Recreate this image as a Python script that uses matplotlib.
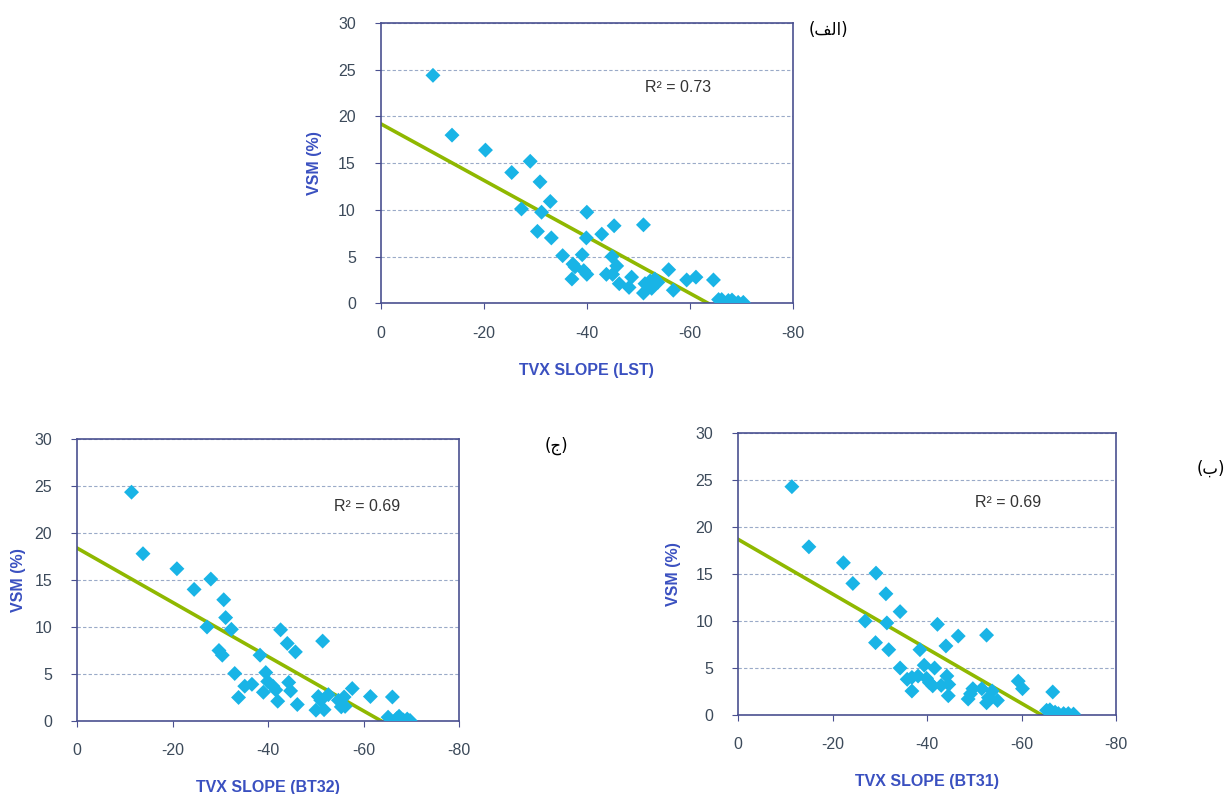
import matplotlib
matplotlib.use('Agg')
import matplotlib.pyplot as plt

# --- data ---
lst_x = [-10.1, -13.8, -20.3, -25.4, -29.0, -30.9, -27.3, -32.9, -31.2, -30.4, -33.1, -35.3,
         -37.3, -37.1, -37.7, -39.1, -40.0, -39.9, -39.4, -40.0, -42.9, -45.3, -44.9, -43.8,
         -45.0, -45.8, -46.3, -48.2, -48.7, -51.0, -51.0, -51.3, -52.3, -52.6, -53.2, -53.8,
         -55.9, -56.8, -59.4, -61.2, -64.6, -65.6, -66.2, -67.5, -68.2, -68.5, -69.4, -70.4]
lst_y = [24.4, 18.0, 16.4, 14.0, 15.2, 13.0, 10.1, 10.9, 9.75, 7.7, 7.0, 5.1,
         4.2, 2.6, 3.9, 5.2, 9.75, 7.0, 3.5, 3.1, 7.4, 8.3, 5.0, 3.1,
         3.1, 4.0, 2.1, 1.7, 2.8, 8.4, 1.1, 2.1, 2.4, 1.6, 2.6, 2.25,
         3.6, 1.4, 2.5, 2.8, 2.5, 0.4, 0.4, 0.3, 0.35, 0.1, 0.1, 0.1]

bt32_x = [-11.4, -13.8, -20.9, -24.5, -28.0, -30.7, -31.1, -27.2, -32.3, -29.7, -30.4, -33.0,
          -33.8, -35.1, -36.6, -38.3, -39.5, -39.9, -39.0, -41.0, -41.6, -42.0, -42.6, -44.0,
          -44.3, -44.7, -45.7, -46.1, -50.0, -50.5, -51.0, -51.4, -51.7, -52.6, -54.7, -55.3,
          -55.9, -56.1, -57.6, -61.4, -65.1, -66.0, -66.9, -67.4, -68.3, -69.1, -69.7]
bt32_y = [24.35, 17.8, 16.2, 14.0, 15.1, 12.9, 11.0, 10.0, 9.75, 7.5, 7.0, 5.05,
          2.5, 3.7, 3.9, 7.0, 5.15, 4.2, 3.05, 3.7, 3.3, 2.1, 9.7, 8.25,
          4.1, 3.2, 7.35, 1.75, 1.15, 2.6, 2.2, 8.5, 1.2, 2.8, 2.2, 1.5,
          2.55, 1.55, 3.45, 2.6, 0.4, 2.55, 0.25, 0.5, 0.1, 0.2, 0.05]

bt31_x = [-11.4, -15.0, -22.3, -24.3, -29.2, -31.3, -31.5, -26.9, -34.3, -29.1, -31.9, -34.3,
          -35.8, -36.8, -36.8, -38.1, -38.5, -39.4, -39.9, -40.5, -41.2, -41.6, -42.2, -43.0,
          -44.0, -44.2, -44.6, -44.5, -46.6, -48.7, -49.2, -49.7, -51.6, -52.6, -52.6, -53.0,
          -53.8, -54.9, -59.3, -60.2, -65.3, -66.0, -66.6, -67.1, -67.8, -68.9, -69.9, -71.0]
bt31_y = [24.3, 17.9, 16.2, 14.0, 15.1, 12.9, 9.8, 10.0, 11.0, 7.7, 6.95, 5.0,
          3.8, 2.55, 4.0, 4.15, 6.95, 5.3, 3.9, 3.45, 3.1, 5.0, 9.65, 3.15,
          7.35, 4.15, 3.25, 2.05, 8.4, 1.7, 2.25, 2.8, 2.8, 8.5, 1.3, 1.85,
          2.55, 1.55, 3.6, 2.8, 0.5, 0.55, 2.45, 0.3, 0.15, 0.15, 0.15, 0.1]

# linear trend lines (intercept, slope) and R² as printed
trend_lst = (19.2, 0.302)
trend_bt32 = (18.4, 0.289)
trend_bt31 = (18.7, 0.291)
r2_labels = ['R² = 0.73', 'R² = 0.69', 'R² = 0.69']
x_labels = ['TVX SLOPE (LST)', 'TVX SLOPE (BT32)', 'TVX SLOPE (BT31)']
# panel tags, written in visual order with Arabic presentation forms
panel_tags = ['(\ufed2\ufedf\ufe8d)', '(\ufe9d)', '(\ufe8f)']

x_ticks = [0, -20, -40, -60, -80]
y_ticks = [0, 5, 10, 15, 20, 25, 30]

plt.rcParams['font.family'] = ['Liberation Sans', 'DejaVu Sans']
plt.rcParams['axes.unicode_minus'] = False

fig = plt.figure(figsize=(12.29, 7.94), dpi=100)
positions = [
    [0.310, 0.618, 0.335, 0.353],
    [0.0627, 0.092, 0.311, 0.355],
    [0.6005, 0.0995, 0.3076, 0.355],
]
datasets = [(lst_x, lst_y, trend_lst), (bt32_x, bt32_y, trend_bt32), (bt31_x, bt31_y, trend_bt31)]
r2_pos = [(-57.8, 23.1), (-60.6, 22.8), (-57.2, 22.6)]
tag_pos = [(0.690, 0.962), (0.462, 0.438), (0.997, 0.41)]
ylabel_pads = [12, 6, 10]

spine_color = '#4a5090'
tick_color = '#3c4a5a'
label_color = '#3a50c0'

for i, pos in enumerate(positions):
    ax = fig.add_axes(pos)
    xs, ys, (b, m) = datasets[i]
    ax.set_xlim(0, -80)
    ax.set_ylim(0, 30)
    ax.set_xticks(x_ticks)
    ax.set_yticks(y_ticks)
    ax.grid(True, axis='y', linestyle='--', linewidth=0.8, color='#9aaac8', dashes=(3, 2))
    ax.set_axisbelow(True)
    x_end = -b / m
    ax.plot([0, x_end], [b, b + m * x_end], color='#8fb800', linewidth=2.6, zorder=2)
    ax.scatter(xs, ys, marker='D', s=58, color='#19b4e6', edgecolors='none', zorder=3)
    for sp in ax.spines.values():
        sp.set_color(spine_color)
        sp.set_linewidth(1.2)
    ax.tick_params(direction='out', length=4, color=spine_color, labelsize=11.5,
                   labelcolor=tick_color)
    ax.tick_params(axis='y', pad=14)
    ax.tick_params(axis='x', pad=12)
    ax.set_xlabel(x_labels[i], fontsize=11.5, fontweight='bold', color=label_color, labelpad=16)
    ax.set_ylabel('VSM (%)', fontsize=11.5, fontweight='bold', color=label_color,
                  labelpad=ylabel_pads[i])
    ax.text(r2_pos[i][0], r2_pos[i][1], r2_labels[i], fontsize=11.5, color='#333333',
            ha='center', va='center')
    fig.text(tag_pos[i][0], tag_pos[i][1], panel_tags[i], fontsize=12, color='black',
             ha='right', va='center', family=['DejaVu Sans'])

fig.savefig('out.png', dpi=100, facecolor='white')
